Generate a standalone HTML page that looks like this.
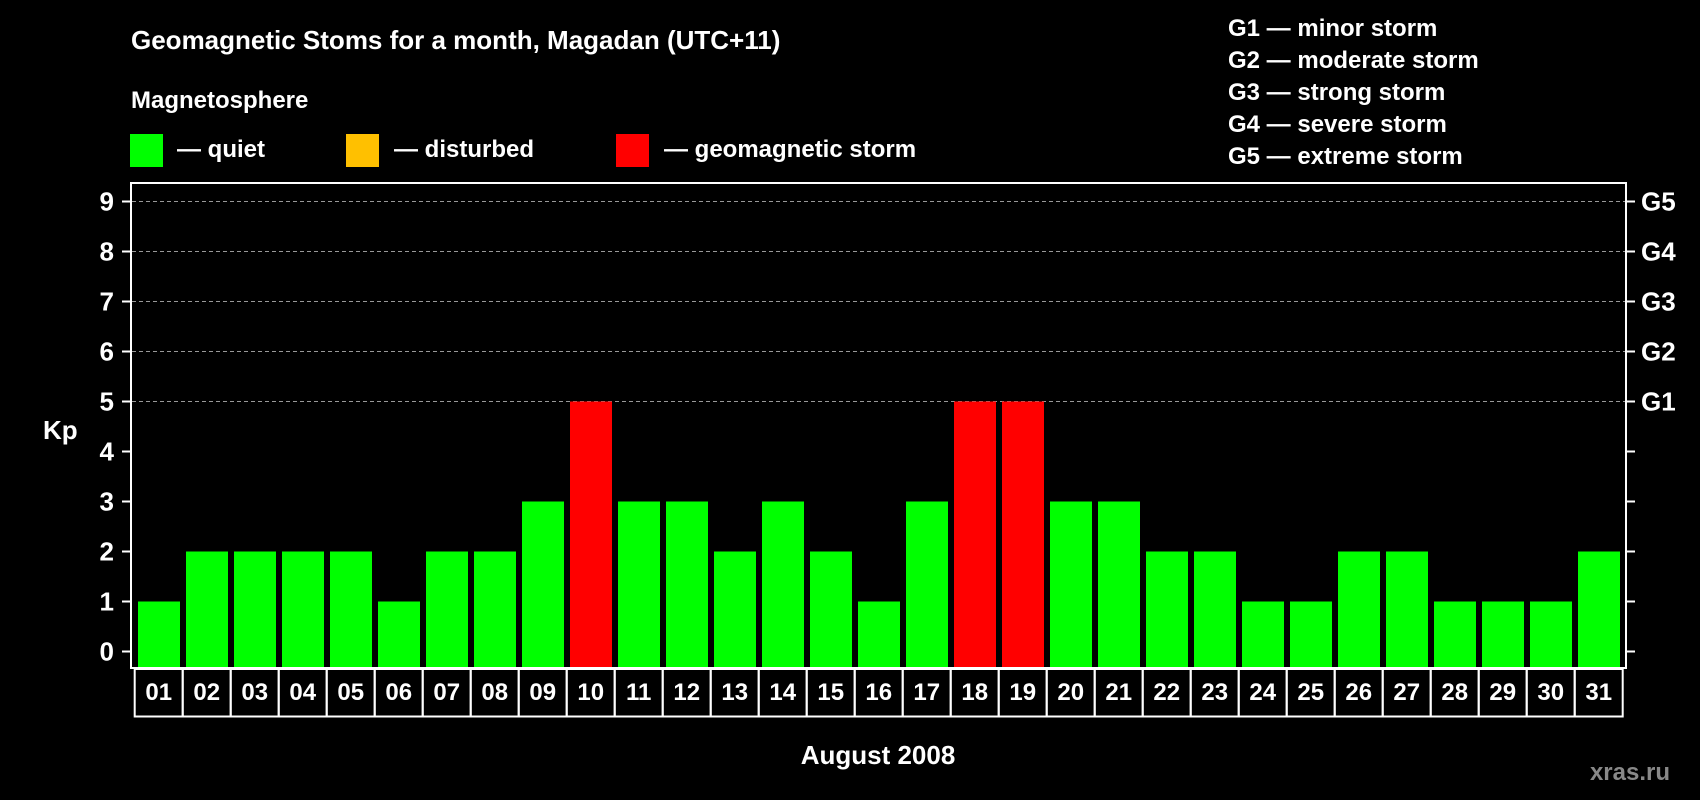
<!DOCTYPE html>
<html><head><meta charset="utf-8"><style>
html,body{margin:0;padding:0;background:#000;}
svg{display:block;font-family:"Liberation Sans",Arial,sans-serif;font-weight:bold;}
</style></head><body>
<svg id="chart" width="1700" height="800" viewBox="0 0 1700 800" xmlns="http://www.w3.org/2000/svg">
<rect width="1700" height="800" fill="#000"/>
<text x="131" y="49" fill="#fff" font-size="26">Geomagnetic Stoms for a month, Magadan (UTC+11)</text>
<text x="131" y="108" fill="#fff" font-size="24">Magnetosphere</text>
<g><rect x="130" y="134" width="33" height="33" fill="#00ff00"/><text x="177" y="157" fill="#fff" font-size="24">— quiet</text></g>
<g><rect x="346" y="134" width="33" height="33" fill="#ffc000"/><text x="394" y="157" fill="#fff" font-size="24">— disturbed</text></g>
<g><rect x="616" y="134" width="33" height="33" fill="#ff0000"/><text x="664" y="157" fill="#fff" font-size="24">— geomagnetic storm</text></g>
<g fill="#fff" font-size="24">
<text x="1228" y="36">G1 — minor storm</text>
<text x="1228" y="68">G2 — moderate storm</text>
<text x="1228" y="100">G3 — strong storm</text>
<text x="1228" y="132">G4 — severe storm</text>
<text x="1228" y="164">G5 — extreme storm</text>
</g>
<g id="grid"></g>
<g id="bars"></g>
<rect x="131" y="183" width="1495" height="485" fill="none" stroke="#fff" stroke-width="2"/>
<g id="yaxis"></g>
<g id="xaxis"></g>
<text x="43" y="439" fill="#fff" font-size="26">Kp</text>
<text x="878" y="764" fill="#fff" font-size="26" text-anchor="middle">August 2008</text>
<text x="1670" y="780" fill="#888" font-size="24" text-anchor="end">xras.ru</text>
</svg>
<script>
const days = ["01","02","03","04","05","06","07","08","09","10","11","12","13","14","15","16","17","18","19","20","21","22","23","24","25","26","27","28","29","30","31"];
const kpValues = [1,2,2,2,2,1,2,2,3,5,3,3,2,3,2,1,3,5,5,3,3,2,2,1,1,2,2,1,1,1,2];
const yTicks = [0,1,2,3,4,5,6,7,8,9];
const gLabels = ["G1","G2","G3","G4","G5"];
const gLevels = [5,6,7,8,9];

const NS="http://www.w3.org/2000/svg";
function y(v){return 651.5-50*v;}
function x(i){return 138+48*i;}
const plotBottom=668, barW=42;
function mk(tag,attrs,parent){const e=document.createElementNS(NS,tag);for(const k in attrs)e.setAttribute(k,attrs[k]);parent.appendChild(e);return e;}
const grid=document.getElementById('grid'),bars=document.getElementById('bars'),ya=document.getElementById('yaxis'),xa=document.getElementById('xaxis');
gLevels.forEach((lv,i)=>{
  const l=mk('line',{x1:132,x2:1625,y1:y(lv),y2:y(lv),stroke:'#999','stroke-width':1,'stroke-dasharray':'4 3'},grid);
  
  
  const t=mk('text',{x:1641,y:y(lv)+9,fill:'#fff','font-size':26},ya);
  t.textContent=gLabels[i];
  
  
});
yTicks.forEach(v=>{
  const tl=mk('line',{x1:122,x2:131,y1:y(v),y2:y(v),stroke:'#fff','stroke-width':2},ya);
  
  
  const tr=mk('line',{x1:1626,x2:1635,y1:y(v),y2:y(v),stroke:'#fff','stroke-width':2},ya);
  
  
  const t=mk('text',{x:114,y:y(v)+9,fill:'#fff','font-size':26,'text-anchor':'end'},ya);
  t.textContent=v;
  
  
});
kpValues.forEach((v,i)=>{
  const c=v>=5?'#ff0000':(v>=4?'#ffc000':'#00ff00');
  const r=mk('rect',{x:x(i),y:y(v),width:barW,height:plotBottom-y(v),fill:c},bars);
  
  
  const cell=mk('rect',{x:134.7+48*i,y:669,width:48,height:47.5,fill:'none',stroke:'#fff','stroke-width':2},xa);
  
  
  const t=mk('text',{x:134.7+48*i+24,y:700,fill:'#fff','font-size':24,'text-anchor':'middle'},xa);
  t.textContent=days[i];
  
  
});
</script>
</body></html>
